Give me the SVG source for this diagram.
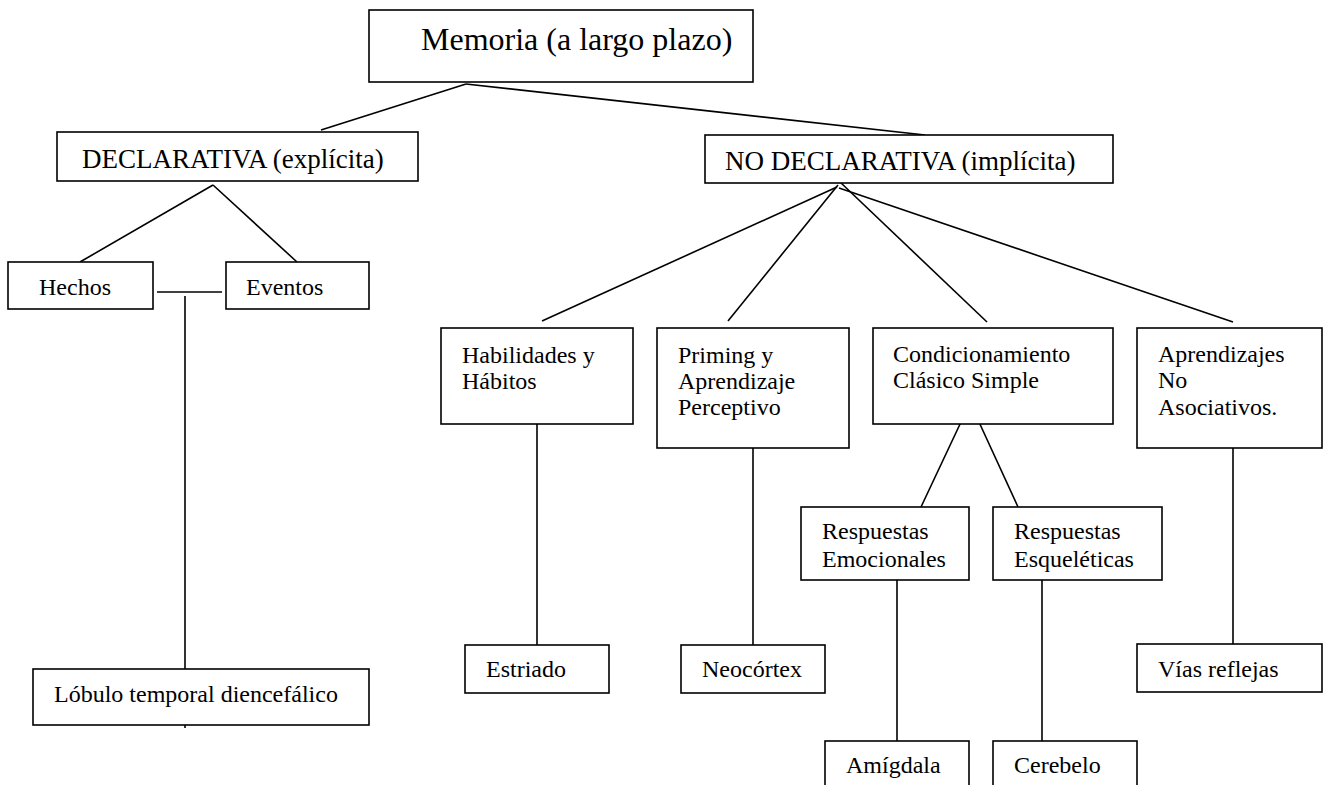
<svg xmlns="http://www.w3.org/2000/svg" width="1325" height="785" viewBox="0 0 1325 785">
<style>
.box{fill:#fff;stroke:#000;stroke-width:1.6}
.ln{stroke:#000;stroke-width:1.6;fill:none}
text{font-family:"Liberation Serif","Times New Roman",serif;fill:#000;font-size:24px}
.big{font-size:32px}
.mid{font-size:27px}
</style>
<rect width="1325" height="785" fill="#fff"/>
<g id="connectors">
<line class="ln" x1="466" y1="84" x2="321" y2="130"/>
<line class="ln" x1="466" y1="84" x2="925" y2="135"/>
<line class="ln" x1="213" y1="185" x2="80" y2="262"/>
<line class="ln" x1="213" y1="185" x2="297" y2="262"/>
<line class="ln" x1="157" y1="292" x2="222" y2="292"/>
<line class="ln" x1="185" y1="296" x2="185" y2="669"/>
<line class="ln" x1="185" y1="725" x2="185" y2="728"/>
<line class="ln" x1="837" y1="187" x2="542" y2="321"/>
<line class="ln" x1="838" y1="185" x2="728" y2="321"/>
<line class="ln" x1="840" y1="182" x2="987" y2="322"/>
<line class="ln" x1="839" y1="188" x2="1233" y2="322"/>
<line class="ln" x1="537" y1="405" x2="537" y2="645"/>
<line class="ln" x1="753" y1="430" x2="753" y2="645"/>
<line class="ln" x1="969" y1="405" x2="921" y2="507"/>
<line class="ln" x1="973" y1="409" x2="1018" y2="507"/>
<line class="ln" x1="1233" y1="430" x2="1233" y2="644"/>
<line class="ln" x1="897" y1="573" x2="897" y2="741"/>
<line class="ln" x1="1042" y1="573" x2="1042" y2="741"/>
</g>
<g id="n-memoria"><rect class="box" x="369" y="10" width="384" height="72"/><text class="big" x="421" y="50">Memoria (a largo plazo)</text></g>
<g id="n-declarativa"><rect class="box" x="57" y="132" width="361" height="49"/><text class="mid" x="82" y="168">DECLARATIVA (explícita)</text></g>
<g id="n-nodeclarativa"><rect class="box" x="705" y="135" width="408" height="48"/><text class="mid" x="725" y="170">NO DECLARATIVA (implícita)</text></g>
<g id="n-hechos"><rect class="box" x="8" y="262" width="145" height="47"/><text x="39" y="295">Hechos</text></g>
<g id="n-eventos"><rect class="box" x="226" y="262" width="143" height="47"/><text x="246" y="295">Eventos</text></g>
<g id="n-lobulo"><rect class="box" x="33" y="669" width="336" height="56"/><text x="54" y="702">Lóbulo temporal diencefálico</text></g>
<g id="n-habilidades"><rect class="box" x="441" y="328" width="192" height="96"/><text x="462" y="363">Habilidades y</text><text x="462" y="389">Hábitos</text></g>
<g id="n-priming"><rect class="box" x="657" y="328" width="192" height="120"/><text x="678" y="363">Priming y</text><text x="678" y="389">Aprendizaje</text><text x="678" y="415">Perceptivo</text></g>
<g id="n-condicionamiento"><rect class="box" x="873" y="328" width="240" height="96"/><text x="893" y="362">Condicionamiento</text><text x="893" y="388">Clásico Simple</text></g>
<g id="n-aprendizajes"><rect class="box" x="1137" y="328" width="185" height="120"/><text x="1158" y="362">Aprendizajes</text><text x="1158" y="388">No</text><text x="1158" y="415">Asociativos.</text></g>
<g id="n-estriado"><rect class="box" x="465" y="645" width="144" height="48"/><text x="486" y="677">Estriado</text></g>
<g id="n-neocortex"><rect class="box" x="681" y="645" width="144" height="48"/><text x="702" y="677">Neocórtex</text></g>
<g id="n-vias"><rect class="box" x="1137" y="644" width="185" height="48"/><text x="1158" y="677">Vías reflejas</text></g>
<g id="n-emocionales"><rect class="box" x="801" y="507" width="168" height="73"/><text x="822" y="539">Respuestas</text><text x="822" y="567">Emocionales</text></g>
<g id="n-esqueleticas"><rect class="box" x="993" y="507" width="169" height="73"/><text x="1014" y="539">Respuestas</text><text x="1014" y="567">Esqueléticas</text></g>
<g id="n-amigdala"><rect class="box" x="825" y="741" width="144" height="70"/><text x="846" y="773">Amígdala</text></g>
<g id="n-cerebelo"><rect class="box" x="993" y="741" width="144" height="70"/><text x="1014" y="773">Cerebelo</text></g>
</svg>
